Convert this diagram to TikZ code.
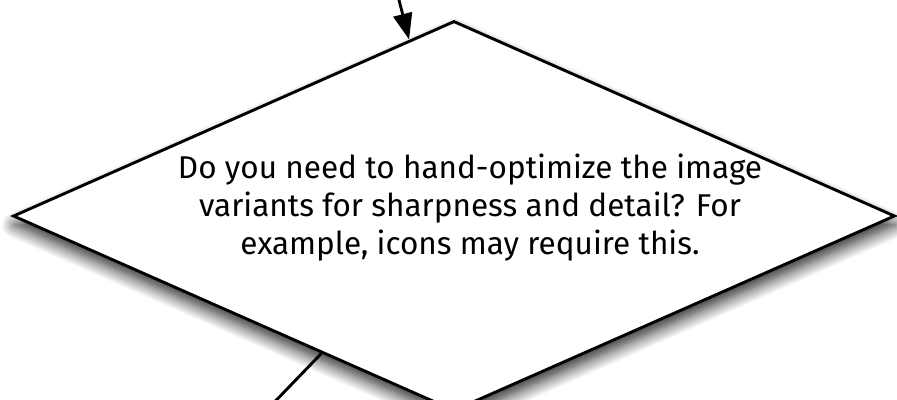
\documentclass[tikz,border=0pt]{standalone}
\usepackage{fontspec}
\setmainfont{Fira Sans}
\usetikzlibrary{arrows.meta,shapes.geometric,shadows.blur}
\begin{document}
\begin{tikzpicture}[x=1pt,y=-1pt,
  decision/.style={diamond,draw=black,line width=2.9pt,fill=white,inner sep=0pt,
    minimum width=882pt,minimum height=390pt,shape aspect=2.26,
    blur shadow={shadow xshift=1pt,shadow yshift=-9pt,shadow blur radius=13pt,shadow blur steps=12,shadow opacity=85}},
  label/.style={align=center,font=\fontsize{31.5}{38}\selectfont,text=black},
  link/.style={line width=2.9pt,draw=black},
  arrowlink/.style={link,-{Triangle[length=26pt,width=19pt]}}]
\useasboundingbox (0,0) rectangle (897,399);
\node[decision] (d) at (454,216) {};
\node[label] (t) at (470,208) {Do you need to hand-optimize the image\\variants for sharpness and detail? For\\example, icons may require this.};
\coordinate (in) at (398,-4);
\coordinate (out) at (262,415);
\draw[arrowlink] (in) -- (d);
\draw[link] (out) -- (d);
\end{tikzpicture}
\end{document}
